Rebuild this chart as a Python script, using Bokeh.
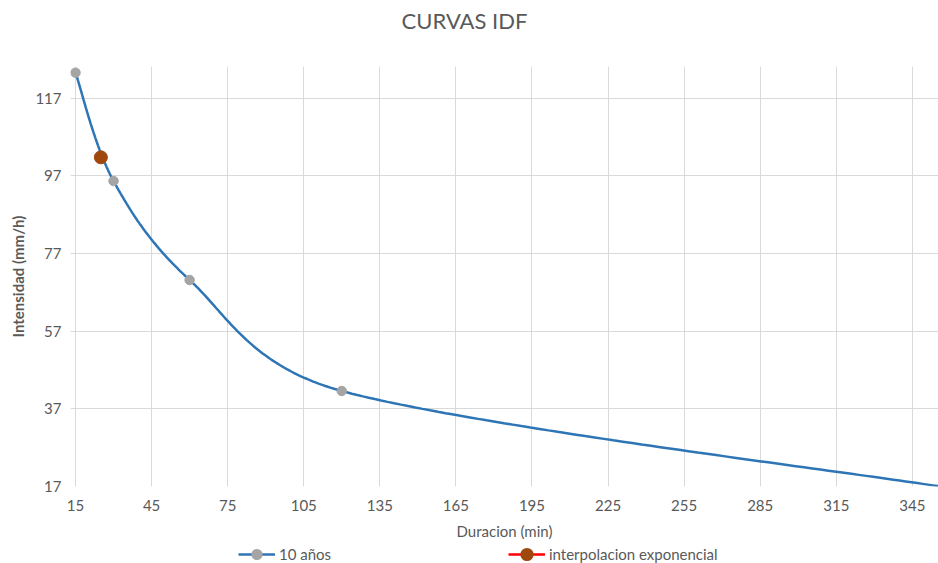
import numpy as np
from bokeh.plotting import figure
from bokeh.layouts import column
from bokeh.models import Range1d, FixedTicker, Legend, LegendItem, Label
from bokeh.embed import file_html
from bokeh.resources import INLINE

# IDF curve, return period 10 years
duracion = [15, 30, 60, 120, 360]            # min
intensidad = [123.6, 95.7, 70.2, 41.6, 16.6]  # mm/h

# exponential interpolation result
interp_duracion = [25]
interp_intensidad = [101.8]

x_ticks = [15, 45, 75, 105, 135, 165, 195, 225, 255, 285, 315, 345]
y_ticks = [17, 37, 57, 77, 97, 117]

W, H = 938, 563
TITLE_H = 40             # strip holding the chart title
LEG_H = 18               # strip holding the legend under the chart
CH = H - TITLE_H - LEG_H  # chart height
AXIS_LEFT = 75           # pixel column of the 15-min gridline
PAD = 5                  # room so the first marker is not cut by the frame
B_LEFT, B_RIGHT = AXIS_LEFT - PAD, 0
B_TOP = 66 - TITLE_H
B_BOTTOM = CH - (486 - TITLE_H)
X_VIS_END = 355.3
Y0, Y1 = 17, 125.2

FONT = "Lato"
TXT = "#595959"
GRID = "#D9D9D9"
BLUE = "#2E75B6"
GRAY = "#A5A5A5"
BROWN = "#9E480E"

sx = (W - AXIS_LEFT) / (X_VIS_END - 15)
X0 = 15 - PAD / sx
X1 = X_VIS_END
frame_h = CH - B_TOP - B_BOTTOM
sy = frame_h / (Y1 - Y0)


def smooth_curve(xs, ys, n=80):
    """Spreadsheet-style smoothed line: cubic Bezier segments whose
    tangents are clamped to half the segment length (in pixel space)."""
    P = np.column_stack([np.asarray(xs, float) * sx, np.asarray(ys, float) * sy])
    parts = []
    t = np.linspace(0.0, 1.0, n)[:, None]
    for i in range(len(P) - 1):
        p1, p2 = P[i], P[i + 1]
        p0 = P[i - 1] if i > 0 else p1
        p3 = P[i + 2] if i + 2 < len(P) else p2
        d12 = np.linalg.norm(p2 - p1)
        d02 = np.linalg.norm(p2 - p0)
        d13 = np.linalg.norm(p3 - p1)
        f = min(1 / 6, 0.5 * d12 / d02) if d02 > 0 else 1 / 6
        g = min(1 / 6, 0.5 * d12 / d13) if d13 > 0 else 1 / 6
        c1 = p1 + f * (p2 - p0)
        c2 = p2 - g * (p3 - p1)
        seg = ((1 - t) ** 3) * p1 + 3 * ((1 - t) ** 2) * t * c1 + 3 * (1 - t) * t ** 2 * c2 + t ** 3 * p2
        parts.append(seg if i == 0 else seg[1:])
    pts = np.vstack(parts)
    return pts[:, 0] / sx, pts[:, 1] / sy


def strip(height):
    """Axis-less figure used for the title and legend rows."""
    f = figure(width=W, height=height, output_backend="svg", toolbar_location=None,
               x_axis_type=None, y_axis_type=None,
               x_range=Range1d(X0, X1), y_range=Range1d(Y0, Y1),
               min_border_left=B_LEFT, min_border_right=0,
               min_border_top=0, min_border_bottom=0, title=None)
    f.outline_line_color = None
    f.background_fill_color = "white"
    f.border_fill_color = "white"
    f.xgrid.visible = False
    f.ygrid.visible = False
    return f


cx, cy = smooth_curve(duracion, intensidad)

# title row
head = strip(TITLE_H)
head.add_layout(Label(x=464 - B_LEFT, y=TITLE_H - 20, x_units="screen", y_units="screen",
                      text="CURVAS IDF", text_font=FONT, text_font_size="22px",
                      text_color=TXT, text_align="center", text_baseline="middle"))

# chart
p = figure(width=W, height=CH, output_backend="svg", toolbar_location=None,
           x_range=Range1d(X0, X1), y_range=Range1d(Y0, Y1),
           min_border_left=B_LEFT, min_border_right=B_RIGHT,
           min_border_top=B_TOP, min_border_bottom=B_BOTTOM, title=None)
p.outline_line_color = None
p.background_fill_color = "white"
p.border_fill_color = "white"

p.xaxis.ticker = FixedTicker(ticks=x_ticks)
p.yaxis.ticker = FixedTicker(ticks=y_ticks)
for ax in (p.xaxis[0], p.yaxis[0]):
    ax.axis_line_color = None
    ax.major_tick_line_color = None
    ax.minor_tick_line_color = None
    ax.major_tick_out = 0
    ax.major_tick_in = 0
    ax.minor_tick_out = 0
    ax.major_label_text_font = FONT
    ax.major_label_text_font_size = "15px"
    ax.major_label_text_color = TXT
    ax.axis_label_text_font = FONT
    ax.axis_label_text_font_size = "15px"
    ax.axis_label_text_color = TXT

p.xaxis.axis_label = "Duracion (min)"
p.xaxis.axis_label_text_font_style = "normal"
p.xaxis.major_label_standoff = 13
p.xaxis.axis_label_standoff = 8

p.yaxis.axis_label = "Intensidad (mm/h)"
p.yaxis.axis_label_text_font_style = "bold"
p.yaxis.major_label_standoff = 9
p.yaxis.axis_label_standoff = 5

p.xgrid.grid_line_color = GRID
p.ygrid.grid_line_color = GRID
p.xgrid.grid_line_width = 1
p.ygrid.grid_line_width = 1

p.line(cx, cy, line_color=BLUE, line_width=2.5)
p.scatter(duracion, intensidad, marker="circle", size=9.5,
          fill_color=GRAY, line_color=GRAY)
p.scatter(interp_duracion, interp_intensidad, marker="circle", size=13,
          fill_color=BROWN, line_color=BROWN)

# legend row
leg = strip(LEG_H)
k_line = leg.line(duracion, intensidad, line_color=BLUE, line_width=2.5, visible=False)
k_pts = leg.scatter(duracion, intensidad, marker="circle", size=8,
                    fill_color=GRAY, line_color=GRAY, line_width=4, visible=False)
k_iline = leg.line(interp_duracion, interp_intensidad, line_color="#FF0000", line_width=2.5, visible=False)
k_ipts = leg.scatter(interp_duracion, interp_intensidad, marker="circle", size=8,
                     fill_color=BROWN, line_color=BROWN, line_width=6, visible=False)


def add_key(label, renderers, x):
    lg = Legend(items=[LegendItem(label=label, renderers=renderers)],
                location=(x - B_LEFT, 0), orientation="horizontal",
                glyph_width=37, glyph_height=LEG_H, label_height=LEG_H,
                label_standoff=4, padding=0, margin=0, spacing=0,
                border_line_color=None, background_fill_alpha=0,
                label_text_font=FONT, label_text_font_size="15px",
                label_text_color=TXT)
    leg.add_layout(lg, "center")


add_key("10 años", [k_line, k_pts], 238)
add_key("interpolacion exponencial", [k_iline, k_ipts], 508)

layout = column(head, p, leg, spacing=0)
open("out.html", "w").write(file_html(layout, INLINE))
